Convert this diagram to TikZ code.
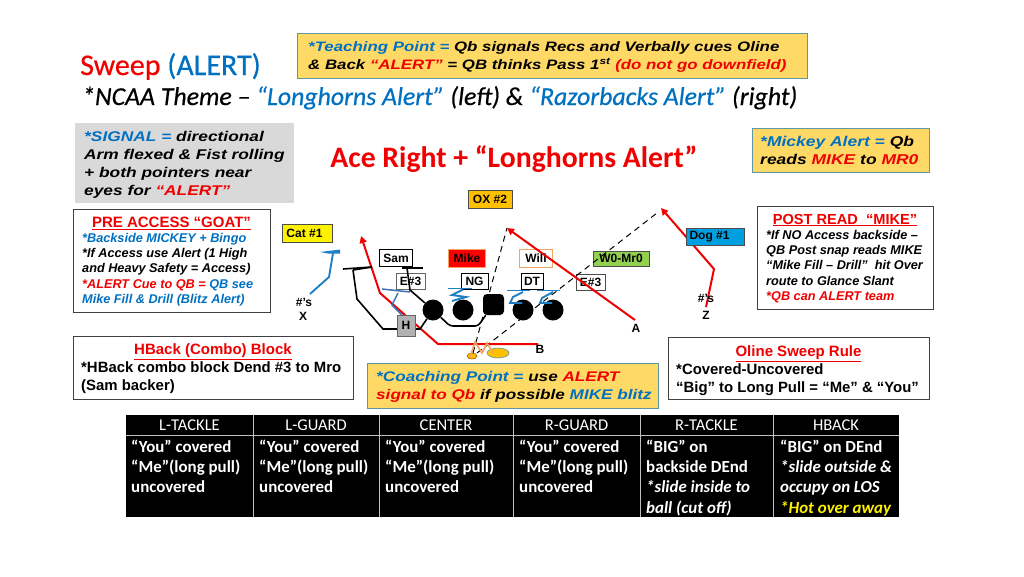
\documentclass[tikz,border=0pt]{standalone}
\usepackage{fontspec}
\setmainfont{Liberation Sans}
\newfontfamily\calfont{Carlito}
\newfontfamily\calbold[FakeBold=0.5]{Carlito}
\newfontfamily\widefont[FakeStretch=1.23]{Liberation Sans}
\usetikzlibrary{arrows.meta,shapes.geometric}
\definecolor{cblue}{HTML}{0070C0}
\definecolor{cred}{HTML}{F00000}
\definecolor{cgold}{HTML}{FFD966}
\definecolor{cteal}{HTML}{5F97A8}
\definecolor{corange}{HTML}{F4A460}
\definecolor{czblue}{HTML}{1F7FC4}
\definecolor{cdblue}{HTML}{3F6FB5}
\definecolor{cgreen}{HTML}{92D050}
\definecolor{camber}{HTML}{FFC000}
\definecolor{cdog}{HTML}{00A0E0}
\newcommand{\fs}[2]{\fontsize{#1}{#2}\selectfont}
\newcommand{\bl}[1]{\textcolor{cblue}{#1}}
\newcommand{\rd}[1]{\textcolor{cred}{#1}}
\tikzset{
  x=1pt,y=-1pt,
  goldbox/.style={draw=cteal,line width=.9pt,fill=cgold,inner sep=0pt},
  notebox/.style={draw=black!75,line width=.9pt,fill=white,inner sep=0pt},
  boxtext/.style={anchor=west,inner sep=0pt,align=left},
  wideface/.style={boxtext,font=\widefont\bfseries\itshape\fs{#1}{18}},
  headtext/.style={inner sep=0pt,text=cred,font=\bfseries\fs{#1}{#1}},
  tag/.style={inner sep=0pt,font=\bfseries\fs{12}{14},text=black},
  player/.style={circle,fill=black,minimum size=21pt,inner sep=0pt},
  redroute/.style={cred,line width=2pt},
  redarrow/.style={redroute,-{Triangle[length=7pt,width=7pt]}},
  blkline/.style={black,line width=1.6pt},
  zig/.style={czblue,line width=1.9pt},
  dzig/.style={cdblue,line width=1.5pt},
  dsh/.style={black,line width=1pt,dash pattern=on 6pt off 4.5pt},
  thd/.style={text=white,inner sep=0pt,font=\calfont\fs{16.5}{20}},
  tbd/.style={anchor=north west,text=white,inner sep=0pt,align=left,font=\calfont\bfseries\fs{16.9}{20.3}},
  tline/.style={black!25,line width=.9pt},
}
\begin{document}
\begin{tikzpicture}
\useasboundingbox (0,0) rectangle (1024,576);
\fill[white] (0,0) rectangle (1024,576);

% titles
\node[anchor=base west,inner sep=0pt,font=\calbold\fs{30}{32}] (title) at (80,75) {\rd{Sweep} \bl{(ALERT)}};
\node[anchor=base west,inner sep=0pt,font=\calbold\itshape\fs{25.8}{30}] (subtitle) at (82,105) {*NCAA Theme – \bl{“Longhorns Alert”} (left) \& \bl{“Razorbacks Alert”} (right)};

\node[goldbox,minimum width=510pt,minimum height=45pt] (teach) at (552,55.5) {};
\node[wideface=13.7] (teacht) at (308,57)
 {\bl{*Teaching Point =} Qb signals Recs and Verbally cues Oline\\ \& Back \rd{“ALERT”} = QB thinks Pass 1\textsuperscript{st} \rd{(do not go downfield)}};

\node[fill=black!15,minimum width=219pt,minimum height=80pt,inner sep=0pt] (signal) at (184.5,163) {};
\node[wideface=14.1] (signalt) at (84,165)
 {\bl{*SIGNAL =} directional\\ Arm flexed \& Fist rolling\\ + both pointers near\\ eyes for \rd{“ALERT”}};

\node[inner sep=0pt,font=\calfont\bfseries\fs{29.7}{32},text=cred] (ace) at (514,159) {Ace Right + “Longhorns Alert”};

\node[goldbox,minimum width=177pt,minimum height=44pt] (mickey) at (840.5,150) {};
\node[wideface=14.2] (mickeyt) at (760,150.5)
 {\bl{*Mickey Alert =} Qb\\ reads \rd{MIKE} to \rd{MR0}};

\node[notebox,minimum width=197pt,minimum height=103pt] (pre) at (171.5,260.5) {};
\node[headtext=15] (preh) at (171.5,223) {\underline{PRE ACCESS “GOAT”}};
\node[boxtext,font=\bfseries\itshape\fs{12.7}{15.3}] (pret) at (82,269.5)
 {\bl{*Backside MICKEY + Bingo}\\ {*}If Access use Alert (1 High\\ and Heavy Safety = Access)\\ \rd{*ALERT Cue to QB =} \bl{QB see}\\ \bl{Mike Fill \& Drill (Blitz Alert)}};

\node[notebox,minimum width=176pt,minimum height=103pt] (post) at (845,257.5) {};
\node[headtext=14.6] (posth) at (845,220) {\underline{POST READ ~“MIKE”}};
\node[boxtext,font=\bfseries\itshape\fs{12.7}{15.4}] (postt) at (766,266.5)
 {{*}If NO Access backside --\\ QB Post snap reads MIKE\\ “Mike Fill -- Drill”~ hit Over\\ route to Glance Slant\\ \rd{*QB can ALERT team}};

\node[notebox,minimum width=280pt,minimum height=63pt] (hback) at (213,367.5) {};
\node[headtext=15] (hbackh) at (213,351.5) {\underline{HBack (Combo) Block}};
\node[boxtext,font=\bfseries\fs{14.9}{18}] (hbackt) at (81,378)
 {{*}HBack combo block Dend \#3 to Mro\\ (Sam backer)};

\node[notebox,minimum width=261pt,minimum height=62pt] (oline) at (798.5,368) {};
\node[headtext=15] (olineh) at (798.5,353.5) {\underline{Oline Sweep Rule}};
\node[boxtext,font=\bfseries\fs{14.9}{18}] (olinet) at (676,380)
 {{*}Covered-Uncovered\\ “Big” to Long Pull = “Me” \& “You”};

\node[goldbox,minimum width=291pt,minimum height=45pt] (coach) at (512.5,385.5) {};
\node[wideface=13.95] (coacht) at (376,387)
 {\bl{*Coaching Point =} use \rd{ALERT}\\ \rd{signal to Qb} if possible \bl{MIKE blitz}};

% defender boxes under routes
\node[draw=black,line width=1.6pt,fill=white,minimum width=33pt,minimum height=17pt,tag] (sam) at (396,258) {Sam};
\node[draw=black!60,line width=.8pt,fill=white,minimum width=29pt,minimum height=16pt,tag] (el) at (410.5,281) {E\#3};
\node[draw=corange,line width=1.4pt,fill=red,minimum width=37pt,minimum height=18pt,tag] (mike) at (467,258.5) {Mike};
\node[draw=black,line width=.8pt,fill=white,minimum width=27pt,minimum height=16pt,tag] (ng) at (474.5,281) {NG};
\node[draw=corange,line width=1.4pt,fill=white,minimum width=33pt,minimum height=18pt,tag] (will) at (536,258.5) {Will};
\node[draw=black,line width=.8pt,fill=white,minimum width=22pt,minimum height=16pt,tag] (dt) at (532,281) {DT};
\node[draw=black!70,line width=.8pt,fill=white,minimum width=29pt,minimum height=16pt,tag] (er) at (590.5,282) {E\#3};
\node[draw=black!70,line width=.8pt,fill=cgreen,minimum width=56pt,minimum height=15pt,tag] (wmr) at (621,258.5) {W0-Mr0};
\node[draw=black!70,line width=.8pt,fill=yellow,minimum width=50pt,minimum height=18pt,tag] (cat) at (307,233) {Cat \#1\hspace*{5pt}};
\node[draw=black!70,line width=.8pt,fill=camber,minimum width=44pt,minimum height=18pt,tag] (ox) at (490,199) {OX \#2};

% offense
\node[player] (lt) at (433,310) {};
\node[player] (lg) at (463,310) {};
\node[fill=black,rounded corners=4pt,minimum size=21pt,inner sep=0pt] (ce) at (493.5,304.5) {};
\node[player] (rg) at (523,310) {};
\node[player] (rt) at (553,310) {};
\node[ellipse,draw=black!30!orange,line width=.6pt,fill=camber,minimum width=10pt,minimum height=6pt,inner sep=0pt] (qb) at (472,356) {};
\node[ellipse,draw=cteal,line width=.6pt,fill=camber,minimum width=22pt,minimum height=10pt,inner sep=0pt] (rb) at (498,353) {};

% waypoints
\coordinate (xs) at (310,294); \coordinate (xa) at (329,277); \coordinate (xb) at (333,253);
\coordinate (zs) at (706,307); \coordinate (za) at (714,269); \coordinate (zt) at (661,208);
\coordinate (as) at (635,320); \coordinate (at) at (507,228);
\coordinate (ht) at (361,236); \coordinate (ha) at (380,293); \coordinate (hb) at (438,344); \coordinate (hs) at (538,344);
\coordinate (hg) at (383,329); \coordinate (hh) at (420,329); \coordinate (p1) at (357,299); \coordinate (p2) at (353,270);
\coordinate (e1) at (410,290); \coordinate (e2) at (407,268);
\coordinate (dq) at (473,353); \coordinate (dr) at (477,353); \coordinate (dz) at (657,213);
\coordinate (gl) at (450,326); \coordinate (gr) at (478,326);

% dashed reads
\draw[dsh] (dq) -- (at);
\draw[dsh] (dr) -- (dz);

% red routes
\draw[redarrow] (as) -- (at);
\draw[redarrow] (zs) -- (za) -- (zt);
\draw[redarrow] (hs) -- (hb) -- (ha) -- (ht);

% x route (blue)
\draw[czblue,line width=1.9pt] (xs) -- (xa) -- (xb);
\fill[czblue] (320,252) -- (340,249.5) -- (340,253.5) -- (328,253.5) -- cycle;

% line blocks
\draw[blkline] (lt) -- (hh) -- (hg) -- (p1) -- (p2);
\draw[blkline] (343,269) -- (372,267);
\draw[blkline] (353,270) -- (372,267);
\draw[blkline] (lt) -- (e1) -- (e2);
\draw[blkline] (402,268) -- (423,268);
\draw[blkline,rounded corners=3pt] (lt) -- (gl) -- (gr) -- (ce);

% zig-zags
\draw[zig] (448,288.5) -- (472,288.5);
\draw[zig] (463,289.5) -- (452,295) -- (466,297) -- (452,301);
\draw[zig] (507,290.5) -- (530,290.5);
\draw[zig] (523,292) -- (513,297) -- (510,303) -- (522,303);
\draw[zig] (537,290.5) -- (560,290.5);
\draw[zig] (553,292) -- (542,298) -- (540,303) -- (552,303);
\draw[dzig] (382,289) -- (410,292);
\draw[dzig] (398,293) -- (392,305) -- (402,315);

% orange zig-zag
\draw[corange,line width=1.6pt] (470,357) -- (475,342) -- (482,353) -- (487,343) -- (493,353);

% boxes above routes
\node[draw=black!60,line width=.8pt,fill=black!30,minimum width=18pt,minimum height=21pt,tag] (hbk) at (406,325.5) {H};
\node[draw=black!70,line width=.8pt,fill=cdog,minimum width=58pt,minimum height=17pt,tag] (dog) at (715,236.5) {Dog \#1\hspace*{11pt}};

% labels
\node[tag] (xh) at (304,302) {\#’s};
\node[tag] (xl) at (303,316) {X};
\node[tag] (zh) at (706,298) {\#’s};
\node[tag] (zl) at (706,315) {Z};
\node[tag] (al) at (636,328) {A};
\node[tag] (bl) at (540,349) {B};

% table
\fill[black] (126,415) rectangle (899,517);
\draw[tline] (126,435) -- (899,435);
\foreach \cx in {253,379,513,640,773} \draw[tline] (\cx,415) -- (\cx,517);
\node[thd] (h1) at (189.5,425) {L-TACKLE};
\node[thd] (h2) at (316,425) {L-GUARD};
\node[thd] (h3) at (446,425) {CENTER};
\node[thd] (h4) at (576.5,425) {R-GUARD};
\node[thd] (h5) at (706.5,425) {R-TACKLE};
\node[thd] (h6) at (836,425) {HBACK};
\node[tbd] (c1) at (131,439.5) {“You” covered\\ “Me”(long pull)\\ uncovered};
\node[tbd] (c2) at (259,439.5) {“You” covered\\ “Me”(long pull)\\ uncovered};
\node[tbd] (c3) at (385,439.5) {“You” covered\\ “Me”(long pull)\\ uncovered};
\node[tbd] (c4) at (519,439.5) {“You” covered\\ “Me”(long pull)\\ uncovered};
\node[tbd] (c5) at (646,439.5) {“BIG” on\\ backside DEnd\\ \textit{*slide inside to}\\ \textit{ball (cut off)}};
\node[tbd] (c6) at (780,439.5) {“BIG” on DEnd\\ \textit{*slide outside \&}\\ \textit{occupy on LOS}\\ \textcolor{yellow}{\textit{*Hot over away}}};
\end{tikzpicture}
\end{document}
